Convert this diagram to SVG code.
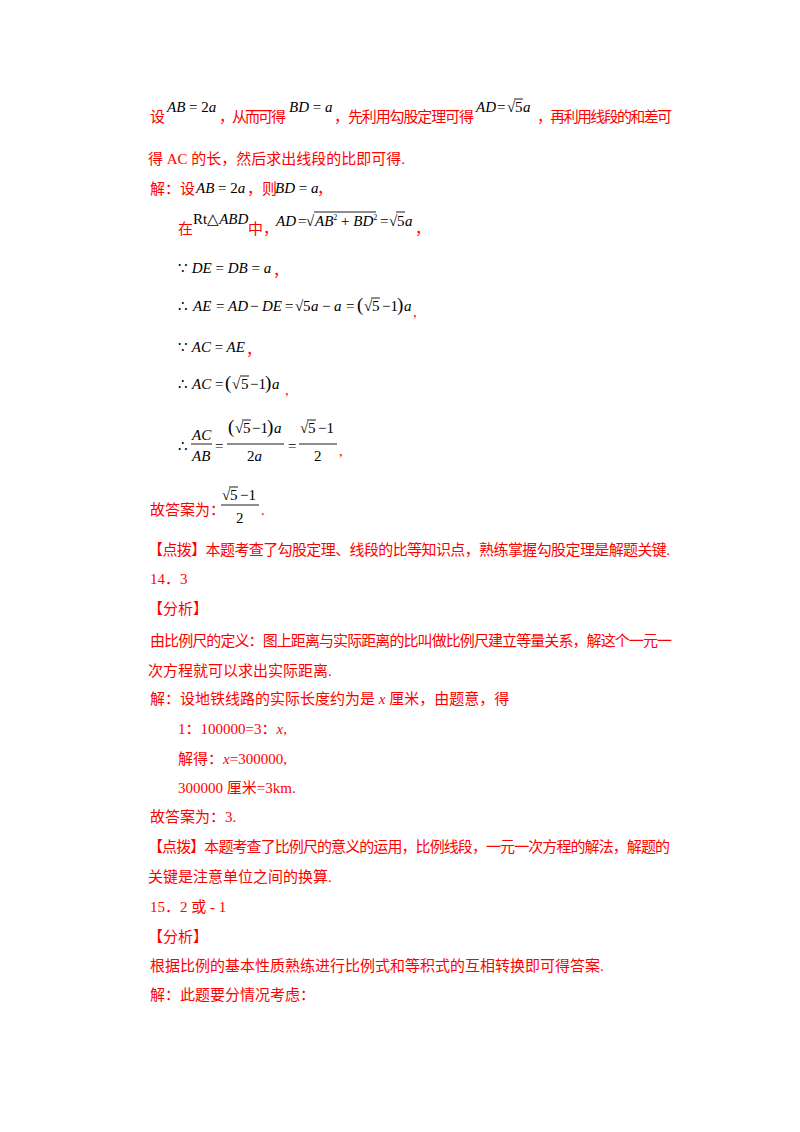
<svg xmlns="http://www.w3.org/2000/svg" width="800" height="1132" viewBox="0 0 800 1132">
<style>
text{font-family:"Liberation Serif","Noto Sans CJK SC",serif;font-size:15px}
.r{fill:#ff0000}
.m{font-family:"Liberation Serif",serif;font-style:italic;font-size:15px;fill:#000}
.n{font-style:normal}
line{stroke:#000;stroke-width:0.9}
</style>
<rect width="800" height="1132" fill="#fff"/>
<g id="p1">
<text x="150" y="122" class="r">设</text>
<text x="167" y="112" class="m">AB <tspan class="n">= 2</tspan>a</text>
<text x="219" y="122" class="r" textLength="67">，从而可得</text>
<text x="289" y="112" class="m">BD <tspan class="n">=</tspan> a</text>
<text x="334" y="122" class="r" textLength="140">，先利用勾股定理可得</text>
<text x="476" y="112" class="m">AD<tspan class="n" x="497">=</tspan><tspan class="n" x="507">√</tspan><tspan class="n" x="515">5</tspan><tspan x="523">a</tspan></text>
<line x1="514" y1="99" x2="523" y2="99"/>
<text x="537" y="122" class="r" textLength="135">，再利用线段的和差可</text>
<text x="148" y="164" class="r">得 AC 的长，然后求出线段的比即可得.</text>
</g>
<g id="sol1">
<text x="150" y="194" class="r">解：设</text>
<text x="196" y="193" class="m">AB <tspan class="n">= 2</tspan>a</text>
<text x="247" y="194" class="r">，则</text>
<text x="275" y="193" class="m">BD <tspan class="n">=</tspan> a</text>
<text x="317" y="194" class="r">，</text>
<text x="178" y="234" class="r">在</text>
<text x="193" y="224" class="m"><tspan class="n">Rt△</tspan>ABD</text>
<text x="248" y="234" class="r">中，</text>
<text x="276" y="226" class="m">AD<tspan class="n" x="298">=</tspan><tspan class="n" x="306">√</tspan><tspan x="315">AB</tspan><tspan class="n" font-size="8" dy="-6">2</tspan><tspan class="n" dy="6"> + </tspan>BD<tspan class="n" font-size="8" dy="-6">2</tspan><tspan class="n" dy="6" x="380">=</tspan><tspan class="n" x="389">√</tspan><tspan class="n" x="397">5</tspan><tspan x="405">a</tspan></text>
<line x1="314" y1="212" x2="376" y2="212"/>
<line x1="396" y1="212" x2="405" y2="212"/>
<text x="415" y="234" class="r">，</text>
<text x="178" y="273" class="m"><tspan class="n">∵ </tspan>DE <tspan class="n">=</tspan> DB <tspan class="n">=</tspan> a</text>
<text x="273" y="276" class="r">，</text>
<text x="178" y="311" class="m"><tspan class="n">∴</tspan><tspan x="193">AE</tspan><tspan class="n" x="216">=</tspan><tspan x="228">AD</tspan><tspan class="n" x="250">−</tspan><tspan x="262">DE</tspan><tspan class="n" x="285">=</tspan><tspan class="n" x="295">√</tspan><tspan class="n" x="303">5</tspan><tspan x="311">a</tspan><tspan class="n" x="322">−</tspan><tspan x="334">a</tspan><tspan class="n" x="346">=</tspan><tspan class="n" x="357" font-size="19">(</tspan><tspan class="n" x="364">√</tspan><tspan class="n" x="372">5</tspan><tspan class="n" x="382">−1</tspan><tspan class="n" x="397" font-size="19">)</tspan><tspan x="404">a</tspan></text>
<line x1="371" y1="298" x2="380" y2="298"/>
<text x="413" y="317" class="r">,</text>
<text x="178" y="352" class="m"><tspan class="n">∵ </tspan>AC <tspan class="n">=</tspan> AE</text>
<text x="246" y="355" class="r">，</text>
<text x="178" y="389" class="m"><tspan class="n">∴</tspan><tspan x="192">AC</tspan><tspan class="n" x="215">=</tspan><tspan class="n" x="225" font-size="19">(</tspan><tspan class="n" x="232">√</tspan><tspan class="n" x="241">5</tspan><tspan class="n" x="250">−1</tspan><tspan class="n" x="265" font-size="19">)</tspan><tspan x="272">a</tspan></text>
<line x1="240" y1="376" x2="249" y2="376"/>
<text x="285" y="395" class="r">,</text>
<text x="178" y="451" class="m n">∴</text>
<text x="192" y="440" class="m">AC</text>
<line x1="191" y1="444" x2="212" y2="444"/>
<text x="192" y="461" class="m">AB</text>
<text x="215" y="451" class="m n">=</text>
<text x="228" y="433" class="m"><tspan class="n" font-size="19">(</tspan><tspan class="n" x="235">√</tspan><tspan class="n" x="243">5</tspan><tspan class="n" x="252">−1</tspan><tspan class="n" x="267" font-size="19">)</tspan><tspan x="274">a</tspan></text>
<line x1="242" y1="420" x2="251" y2="420"/>
<line x1="227" y1="444" x2="284" y2="444"/>
<text x="247" y="461" class="m"><tspan class="n">2</tspan>a</text>
<text x="288" y="451" class="m n">=</text>
<text x="300" y="433" class="m n">√<tspan x="308">5</tspan><tspan x="318">−1</tspan></text>
<line x1="307" y1="420" x2="316" y2="420"/>
<line x1="299" y1="444" x2="337" y2="444"/>
<text x="314" y="461" class="m n">2</text>
<text x="339" y="456" class="r">,</text>
<text x="150" y="515" class="r">故答案为：</text>
<text x="222" y="500" class="m n">√<tspan x="230">5</tspan><tspan x="240">−1</tspan></text>
<line x1="229" y1="487" x2="238" y2="487"/>
<line x1="221" y1="505" x2="259" y2="505"/>
<text x="236" y="523" class="m n">2</text>
<text x="261" y="515" class="r">.</text>
</g>
<g id="p14">
<text x="148" y="555" class="r" textLength="522">【点拨】本题考查了勾股定理、线段的比等知识点，熟练掌握勾股定理是解题关键.</text>
<text x="150" y="584" class="r">14．3</text>
<text x="148" y="614" class="r">【分析】</text>
<text x="150" y="646" class="r" textLength="522">由比例尺的定义：图上距离与实际距离的比叫做比例尺建立等量关系，解这个一元一</text>
<text x="148" y="676" class="r">次方程就可以求出实际距离.</text>
<text x="150" y="704" class="r">解：设地铁线路的实际长度约为是 <tspan font-style="italic">x</tspan> 厘米，由题意，得</text>
<text x="178" y="734" class="r">1：100000=3：<tspan font-style="italic">x</tspan>,</text>
<text x="178" y="764" class="r">解得：<tspan font-style="italic">x</tspan>=300000,</text>
<text x="178" y="793" class="r">300000 厘米=3km.</text>
<text x="150" y="822" class="r">故答案为：3.</text>
<text x="148" y="852" class="r" textLength="522">【点拨】本题考查了比例尺的意义的运用，比例线段，一元一次方程的解法，解题的</text>
<text x="148" y="882" class="r">关键是注意单位之间的换算.</text>
</g>
<g id="p15">
<text x="150" y="912" class="r">15．2 或 - 1</text>
<text x="148" y="942" class="r">【分析】</text>
<text x="150" y="971" class="r">根据比例的基本性质熟练进行比例式和等积式的互相转换即可得答案.</text>
<text x="150" y="1000" class="r">解：此题要分情况考虑：</text>
</g>
</svg>
